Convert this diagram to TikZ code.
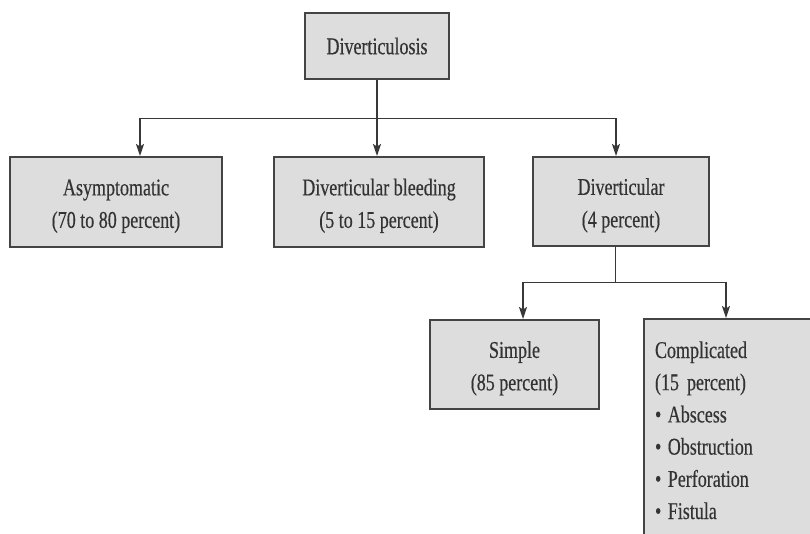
\documentclass[tikz,border=0pt]{standalone}
\usepackage{fontspec}
\setmainfont{Liberation Serif}[FakeStretch=0.75,FakeBold=0.4]
\usetikzlibrary{arrows.meta}
\definecolor{boxfill}{HTML}{DDDDDD}
\definecolor{boxline}{HTML}{444444}
\definecolor{txt}{HTML}{333333}
\definecolor{conn}{HTML}{383838}
\begin{document}
\begin{tikzpicture}[x=1pt,y=-1pt,
  box/.style={draw=boxline, fill=boxfill, line width=2pt, rectangle,
    align=center, text=txt, inner sep=2pt,
    font=\fontsize{24}{32.5}\selectfont},
  twoline/.style={text height=57pt, text depth=5.3pt},
  conline/.style={draw=conn, line width=1.6pt},
  arr/.style={conline, -{Stealth[length=12pt,width=8pt,inset=2.5pt]}}]
\clip (0,0) rectangle (810,534);
\fill[white] (0,0) rectangle (810,534);

\node[box, minimum width=144pt, minimum height=66pt] (top) at (377,46) {Diverticulosis};
\node[box, twoline, minimum width=212pt, minimum height=90pt] (asym) at (116,202) {Asymptomatic\\(70 to 80 percent)};
\node[box, twoline, minimum width=210pt, minimum height=90pt] (bleed) at (379,202) {Diverticular bleeding\\(5 to 15 percent)};
\node[box, twoline, minimum width=176pt, minimum height=89pt] (div) at (621,201.5) {Diverticular\\(4 percent)};
\node[box, twoline, minimum width=169pt, minimum height=89pt] (simple) at (514.5,364.5) {Simple\\(85 percent)};
\node[box, anchor=north west, minimum width=190pt, minimum height=230pt,
  text width=170pt, align=left, inner xsep=11pt,
  text height=16pt, text depth=168pt,
  font=\fontsize{24}{32.2}\selectfont] (comp) at (643,318)
  {Complicated\\(15 percent)\\•\hspace{-1.5pt} Abscess\\•\hspace{-1.5pt} Obstruction\\•\hspace{-1.5pt} Perforation\\•\hspace{-1.5pt} Fistula};

\coordinate (j1) at (140,118.5);
\coordinate (j3) at (616,118.5);
\coordinate (j4) at (615.5,282.5);
\coordinate (j5) at (523,282.5);
\coordinate (j6) at (726,282.5);

\draw[arr] (top.south) -- (top.south |- bleed.north);
\draw[arr] (j3) -- (j1) -- (j1 |- asym.north);
\draw[arr] (j1) -- (j3) -- (j3 |- div.north);
\draw[conline] (j4 |- div.south) -- (j4);
\draw[arr] (j6) -- (j5) -- (j5 |- simple.north);
\draw[arr] (j5) -- (j6) -- (j6 |- comp.north);
\end{tikzpicture}
\end{document}
